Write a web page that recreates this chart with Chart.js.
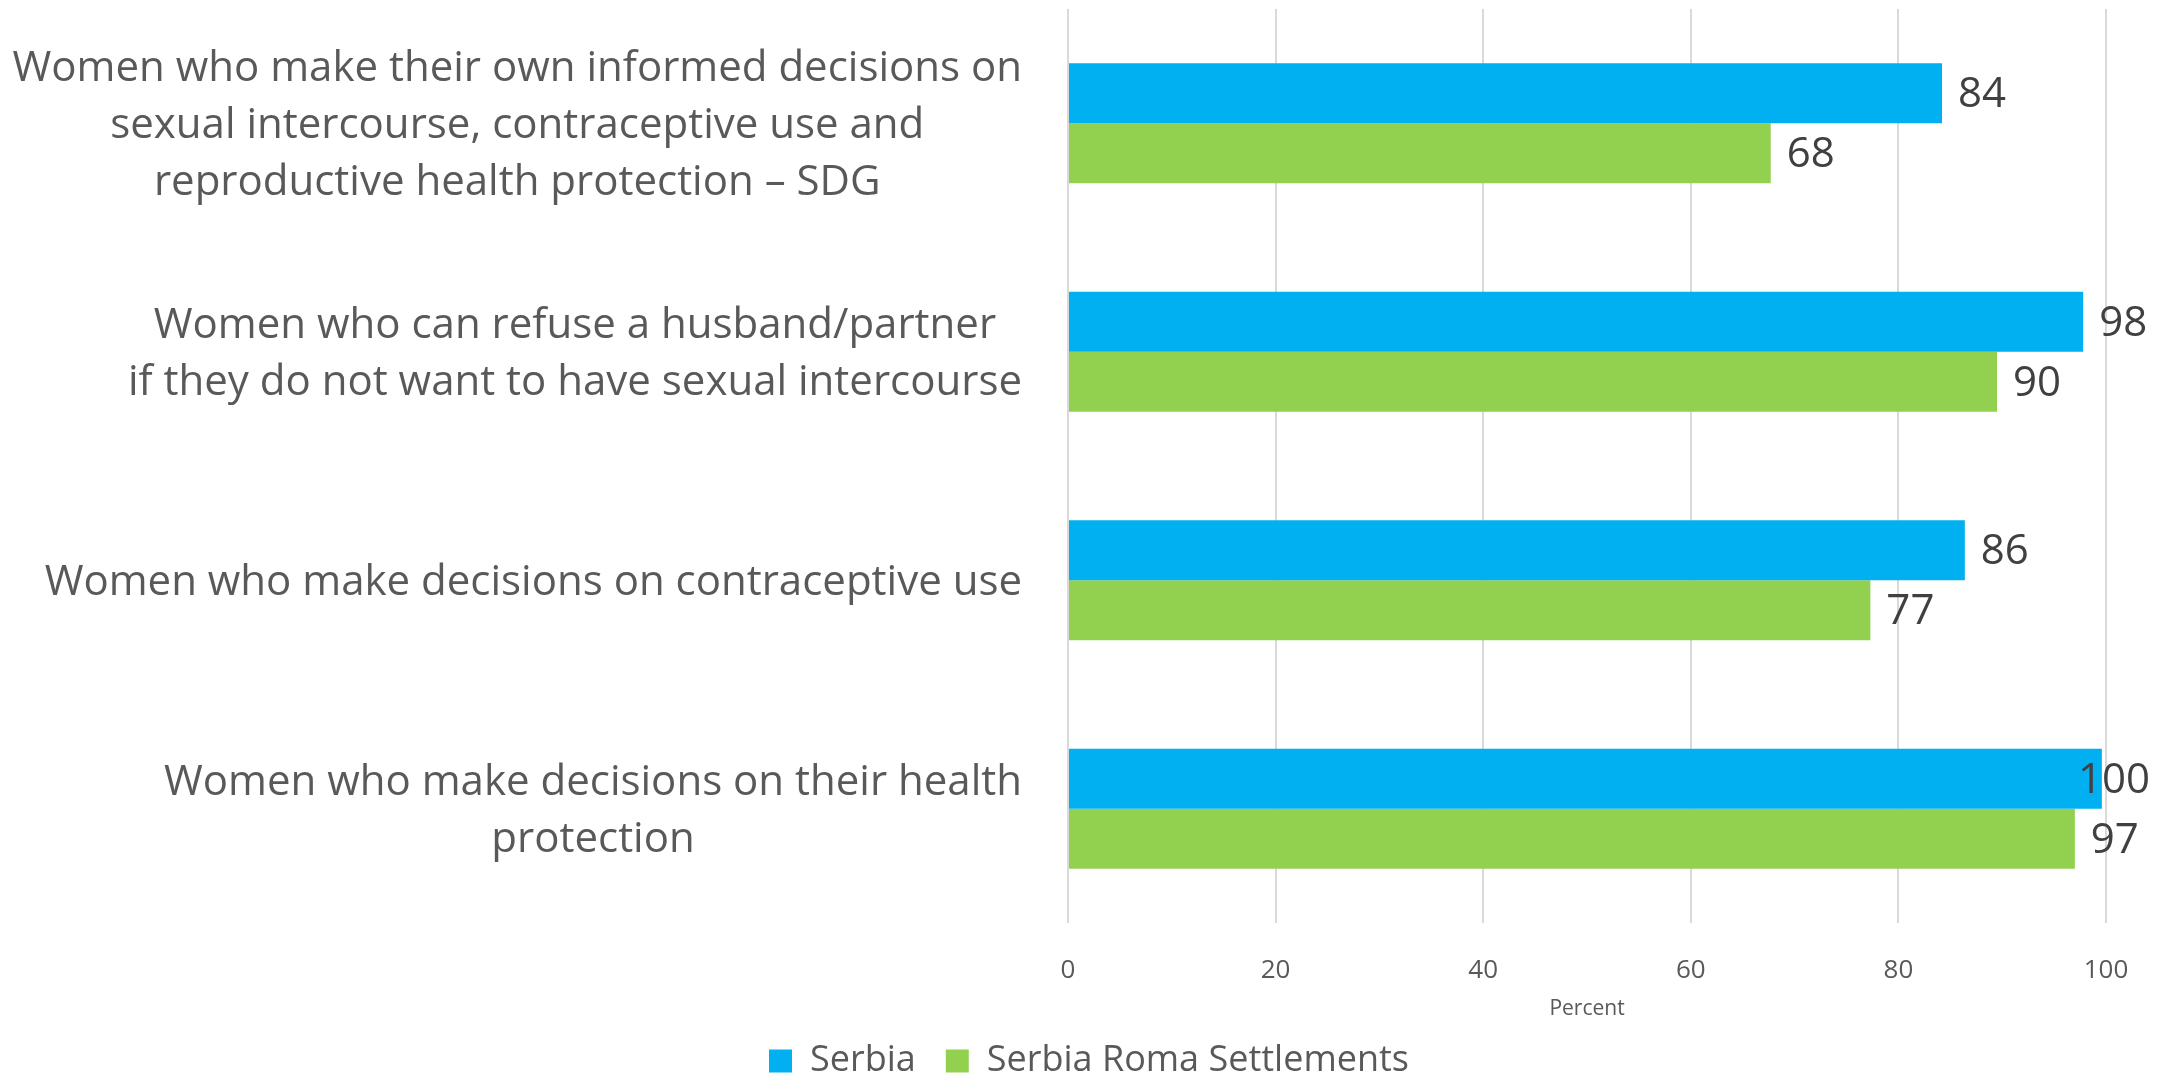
<!DOCTYPE html>
<html lang="en">
<head>
    <meta charset="UTF-8">
    <title>Decision making</title>
    <script src="https://cdn.jsdelivr.net/npm/chart.js"></script>
    <style>
        html, body { margin: 0; padding: 0; background: #fff; }
        #wrap { width: 2172px; height: 1073px; }
    </style>
</head>
<body>
<div id="wrap"><canvas id="chart"></canvas></div>
<script>
// categories (each one split into its printed lines)
const categories = [
    ['Women who make their own informed decisions on', 'sexual intercourse, contraceptive use and', 'reproductive health protection \u2013 SDG'],
    ['Women who can refuse a husband/partner', 'if they do not want to have sexual intercourse'],
    ['Women who make decisions on contraceptive use'],
    ['Women who make decisions on their health', 'protection']
];
const serbia = [84.2, 97.8, 86.4, 99.6];
const romaSettlements = [67.7, 89.5, 77.3, 97.0];
const seriesNames = ['Serbia', 'Serbia Roma Settlements'];
const xTicks = [0, 20, 40, 60, 80, 100];
const xTitle = 'Percent';

const FONT = "'Open Sans', sans-serif";

// draws the category text to the left of the bars, and the value labels
const labelPlugin = {
    id: 'labels',
    afterDraw(chart) {
        const ctx = chart.ctx;
        const yScale = chart.scales.y;
        const right = chart.chartArea.left - 46;
        ctx.save();
        ctx.font = '42px ' + FONT;
        ctx.fillStyle = '#595959';
        ctx.textAlign = 'center';
        ctx.textBaseline = 'middle';
        const lineH = 57;
        categories.forEach((lines, i) => {
            const blockW = Math.max(...lines.map(l => ctx.measureText(l).width));
            const cx = right - blockW / 2;
            const cy = yScale.getPixelForValue(i) + 3;
            lines.forEach((l, j) => {
                ctx.fillText(l, cx, cy + (j - (lines.length - 1) / 2) * lineH);
            });
        });

        ctx.font = '42px ' + FONT;
        ctx.fillStyle = '#404040';
        ctx.textAlign = 'left';
        chart.data.datasets.forEach((ds, di) => {
            chart.getDatasetMeta(di).data.forEach((bar, i) => {
                const txt = String(Math.round(ds.data[i]));
                const w = ctx.measureText(txt).width;
                let x = bar.x + 16;
                if (x + w > 2150) x = 2150 - w;
                ctx.fillText(txt, x, bar.y + 2);
            });
        });
        ctx.restore();
    }
};

new Chart(document.getElementById('chart'), {
    type: 'bar',
    data: {
        labels: categories.map(c => c.join(' ')),
        datasets: [
            { label: seriesNames[0], data: serbia, backgroundColor: '#00B0F0' },
            { label: seriesNames[1], data: romaSettlements, backgroundColor: '#92D050' }
        ]
    },
    options: {
        indexAxis: 'y',
        responsive: true,
        maintainAspectRatio: false,
        animation: false,
        categoryPercentage: 0.525,
        barPercentage: 1.0,
        layout: { padding: { top: 9, right: 66, left: 72, bottom: -16 } },
        scales: {
            x: {
                min: 0,
                max: 100,
                afterBuildTicks: s => { s.ticks = xTicks.map(v => ({ value: v })); },
                afterFit: s => { s.height = 90; },
                grid: { color: '#D9D9D9', lineWidth: 2, drawTicks: false },
                border: { display: false },
                ticks: { padding: 32, color: '#595959', font: { family: FONT, size: 26 } },
                title: { display: true, text: xTitle, color: '#595959', padding: 0, font: { family: FONT, size: 21, lineHeight: 0.4 } }
            },
            y: {
                afterFit: s => { s.width = 1068 - 72; },
                grid: { display: false },
                border: { display: false },
                ticks: { display: false }
            }
        },
        plugins: {
            legend: {
                position: 'bottom',
                labels: {
                    boxWidth: 23,
                    boxHeight: 23,
                    padding: 30,
                    color: '#595959',
                    font: { family: FONT, size: 36 }
                }
            },
            tooltip: { enabled: false }
        }
    },
    plugins: [labelPlugin]
});
</script>
</body>
</html>
